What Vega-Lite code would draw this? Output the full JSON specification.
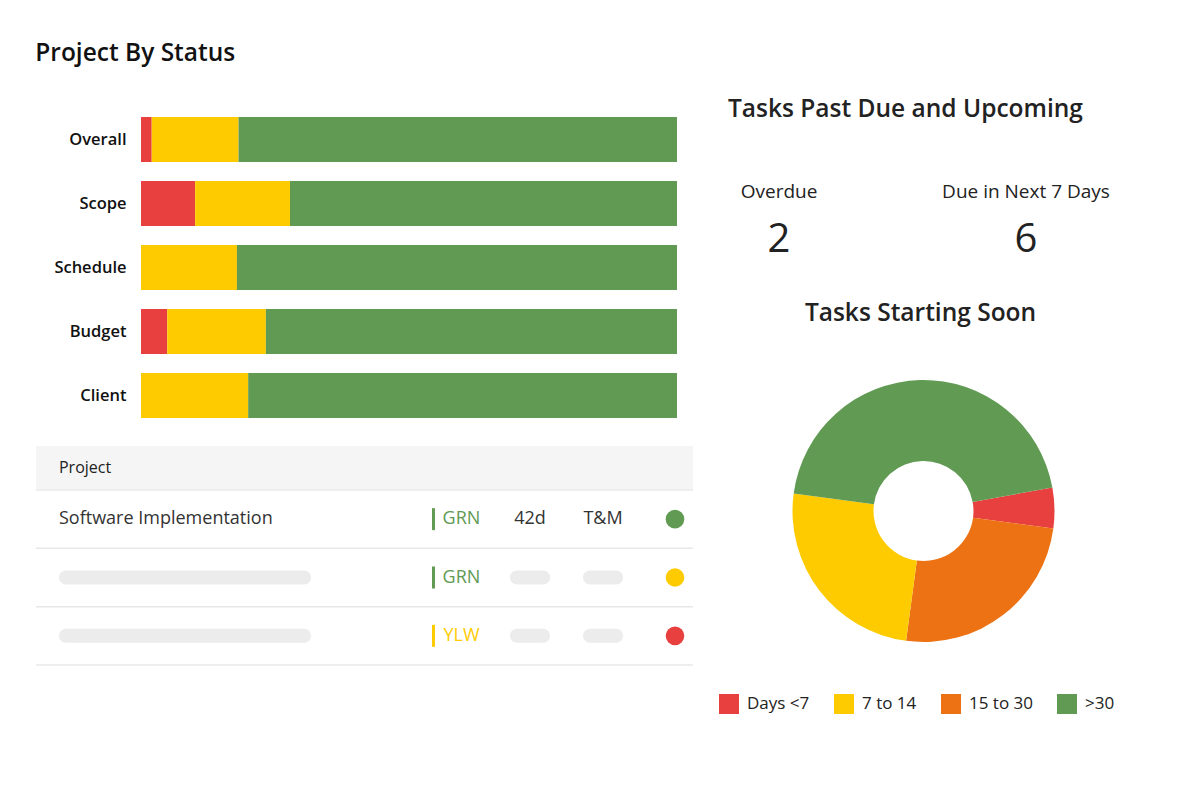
{
  "$schema": "https://vega.github.io/schema/vega-lite/v6.json",
  "background": "white",
  "padding": {"left": 35, "top": 40, "right": 0, "bottom": 0},
  "config": {"view": {"stroke": null}, "font": "Open Sans"},
  "title": {"text": "Project By Status", "anchor": "start", "fontSize": 24.5, "fontWeight": 600, "color": "#111", "offset": 13, "font": "Open Sans"},
  "resolve": {"scale": {"color": "independent"}, "legend": {"color": "independent"}},
  "spacing": 25,
  "hconcat": [
    {
      "spacing": 10,
      "resolve": {"scale": {"color": "independent"}, "legend": {"color": "independent"}},
      "vconcat": [
        {
          "width": 641,
          "height": 357,
          "data": {"values": [
            {"dimension": "Overall", "status": "Red", "seq": 1, "pct": 2.0},
            {"dimension": "Overall", "status": "Yellow", "seq": 2, "pct": 16.2},
            {"dimension": "Overall", "status": "Green", "seq": 3, "pct": 81.8},
            {"dimension": "Scope", "status": "Red", "seq": 1, "pct": 10.1},
            {"dimension": "Scope", "status": "Yellow", "seq": 2, "pct": 17.7},
            {"dimension": "Scope", "status": "Green", "seq": 3, "pct": 72.2},
            {"dimension": "Schedule", "status": "Yellow", "seq": 2, "pct": 17.9},
            {"dimension": "Schedule", "status": "Green", "seq": 3, "pct": 82.1},
            {"dimension": "Budget", "status": "Red", "seq": 1, "pct": 4.9},
            {"dimension": "Budget", "status": "Yellow", "seq": 2, "pct": 18.4},
            {"dimension": "Budget", "status": "Green", "seq": 3, "pct": 76.7},
            {"dimension": "Client", "status": "Yellow", "seq": 2, "pct": 20.0},
            {"dimension": "Client", "status": "Green", "seq": 3, "pct": 80.0}
          ]},
          "mark": {"type": "bar"},
          "encoding": {
            "y": {"field": "dimension", "type": "nominal", "sort": ["Overall", "Scope", "Schedule", "Budget", "Client"],
              "scale": {"paddingInner": 0.297, "paddingOuter": 0.4375, "align": 0.679},
              "axis": {"title": null, "ticks": false, "domain": false, "offset": -105, "labelFontSize": 16.5, "labelFontWeight": 600, "labelColor": "#111", "labelPadding": 15, "minExtent": 0, "maxExtent": 200, "labelFont": "Open Sans"}},
            "x": {"field": "pct", "type": "quantitative", "stack": "zero", "scale": {"domain": [-19.59, 100], "nice": false, "zero": false}, "axis": null},
            "color": {"field": "status", "type": "nominal", "scale": {"domain": ["Red", "Yellow", "Green"], "range": ["#e8403f", "#fecb00", "#619a52"]}, "legend": null},
            "order": {"field": "seq"}
          }
        },
        {
          "spacing": 0,
          "resolve": {"scale": {"color": "independent"}, "legend": {"color": "independent"}},
          "vconcat": [
            {
              "width": 657,
              "height": 43,
              "view": {"fill": "#f5f5f5", "stroke": null},
              "data": {"values": [{"column": "Project"}]},
              "mark": {"type": "text", "align": "left", "fontSize": 16, "fontWeight": 500, "color": "#222"},
              "encoding": {
                "x": {"field": "column", "type": "nominal", "scale": {"type": "point", "domain": ["Project"], "align": 0.035}, "axis": null},
                "text": {"field": "column"}
              }
            },
            {
              "width": 657,
              "height": 175,
              "data": {"values": [
                {"row": "1", "project": "Software Implementation", "status": "GRN", "duration": "42d", "contract": "T&M", "health": "Green"},
                {"row": "2", "project": null, "status": "GRN", "duration": null, "contract": null, "health": "Yellow"},
                {"row": "3", "project": null, "status": "YLW", "duration": null, "contract": null, "health": "Red"}
              ]},
              "layer": [
                {
                  "mark": {"type": "rule", "color": "#e8e8e8", "strokeWidth": 1.5},
                  "encoding": {"y": {"field": "row", "type": "nominal", "bandPosition": 0, "scale": {"domain": ["1", "2", "3"], "paddingInner": 0, "paddingOuter": 0}, "axis": null}}
                },
                {
                  "transform": [{"filter": "datum.row == '3'"}],
                  "mark": {"type": "rule", "color": "#e8e8e8", "strokeWidth": 1.5},
                  "encoding": {"y": {"field": "row", "type": "nominal", "bandPosition": 1, "axis": null}}
                },
                {
                  "transform": [{"filter": "datum.project != null"}],
                  "mark": {"type": "text", "align": "left", "fontSize": 18, "color": "#333"},
                  "encoding": {
                    "y": {"field": "row", "type": "nominal", "axis": null},
                    "x": {"datum": "project", "type": "nominal", "scale": {"type": "point", "domain": ["project"], "align": 0.035}, "axis": null},
                    "text": {"field": "project"}
                  }
                },
                {
                  "transform": [{"filter": "datum.project == null"}],
                  "mark": {"type": "point", "shape": "M0.5,-0.5H17.5A0.5,0.5 0 0 1 17.5,0.5H0.5A0.5,0.5 0 0 1 0.5,-0.5Z", "size": 784, "filled": true, "color": "#ececec", "opacity": 1, "strokeWidth": 0},
                  "encoding": {
                    "y": {"field": "row", "type": "nominal", "axis": null},
                    "x": {"datum": "project", "type": "nominal", "scale": {"type": "point", "domain": ["project"], "align": 0.035}, "axis": null}
                  }
                },
                {
                  "mark": {"type": "point", "shape": "M-2.68,-1H-2.41V1H-2.68Z", "size": 484, "filled": true, "opacity": 1, "strokeWidth": 0},
                  "encoding": {
                    "y": {"field": "row", "type": "nominal", "axis": null},
                    "x": {"datum": "status", "type": "nominal", "scale": {"type": "point", "domain": ["status"], "align": 0.6476}, "axis": null},
                    "color": {"field": "status", "type": "nominal", "scale": {"domain": ["GRN", "YLW"], "range": ["#619a52", "#fecb00"]}, "legend": null}
                  }
                },
                {
                  "mark": {"type": "text", "fontSize": 18},
                  "encoding": {
                    "y": {"field": "row", "type": "nominal", "axis": null},
                    "x": {"datum": "status", "type": "nominal", "scale": {"type": "point", "domain": ["status"], "align": 0.6476}, "axis": null},
                    "text": {"field": "status"},
                    "color": {"field": "status", "type": "nominal", "scale": {"domain": ["GRN", "YLW"], "range": ["#619a52", "#fecb00"]}, "legend": null}
                  }
                },
                {
                  "transform": [{"filter": "datum.duration != null"}],
                  "mark": {"type": "text", "fontSize": 18, "color": "#333"},
                  "encoding": {
                    "y": {"field": "row", "type": "nominal", "axis": null},
                    "x": {"datum": "duration", "type": "nominal", "scale": {"type": "point", "domain": ["duration"], "align": 0.7519}, "axis": null},
                    "text": {"field": "duration"}
                  }
                },
                {
                  "transform": [{"filter": "datum.duration == null"}],
                  "mark": {"type": "point", "shape": "M-0.93,-0.5H0.93A0.5,0.5 0 0 1 0.93,0.5H-0.93A0.5,0.5 0 0 1 -0.93,-0.5Z", "size": 784, "filled": true, "color": "#ececec", "opacity": 1, "strokeWidth": 0},
                  "encoding": {
                    "y": {"field": "row", "type": "nominal", "axis": null},
                    "x": {"datum": "duration", "type": "nominal", "scale": {"type": "point", "domain": ["duration"], "align": 0.7519}, "axis": null}
                  }
                },
                {
                  "transform": [{"filter": "datum.contract != null"}],
                  "mark": {"type": "text", "fontSize": 18, "color": "#333"},
                  "encoding": {
                    "y": {"field": "row", "type": "nominal", "axis": null},
                    "x": {"datum": "contract", "type": "nominal", "scale": {"type": "point", "domain": ["contract"], "align": 0.863}, "axis": null},
                    "text": {"field": "contract"}
                  }
                },
                {
                  "transform": [{"filter": "datum.contract == null"}],
                  "mark": {"type": "point", "shape": "M-0.93,-0.5H0.93A0.5,0.5 0 0 1 0.93,0.5H-0.93A0.5,0.5 0 0 1 -0.93,-0.5Z", "size": 784, "filled": true, "color": "#ececec", "opacity": 1, "strokeWidth": 0},
                  "encoding": {
                    "y": {"field": "row", "type": "nominal", "axis": null},
                    "x": {"datum": "contract", "type": "nominal", "scale": {"type": "point", "domain": ["contract"], "align": 0.863}, "axis": null}
                  }
                },
                {
                  "mark": {"type": "circle", "size": 346, "opacity": 1},
                  "encoding": {
                    "y": {"field": "row", "type": "nominal", "axis": null},
                    "x": {"datum": "health", "type": "nominal", "scale": {"type": "point", "domain": ["health"], "align": 0.9726}, "axis": null},
                    "color": {"field": "health", "type": "nominal", "scale": {"domain": ["Green", "Yellow", "Red"], "range": ["#619a52", "#fecb00", "#e8403f"]}, "legend": null}
                  }
                }
              ],
              "resolve": {"scale": {"x": "independent", "color": "independent"}}
            }
          ]
        }
      ]
    },
    {
      "spacing": 36,
      "resolve": {"scale": {"color": "independent"}, "legend": {"color": "independent"}},
      "vconcat": [
        {
          "width": 409,
          "height": 185,
          "title": {"text": "Tasks Past Due and Upcoming", "anchor": "start", "dx": 9, "fontSize": 24.5, "fontWeight": 600, "color": "#222", "offset": -43},
          "data": {"values": [
            {"metric": "Overdue", "count": 2},
            {"metric": "Due in Next 7 Days", "count": 6}
          ]},
          "encoding": {
            "x": {"field": "metric", "type": "nominal", "sort": null, "scale": {"type": "point", "padding": 0.328, "align": 0.3705}, "axis": null}
          },
          "layer": [
            {
              "mark": {"type": "text", "fontSize": 19, "fontWeight": 500, "color": "#222"},
              "encoding": {
                "y": {"datum": "label", "type": "nominal", "scale": {"type": "point", "domain": ["label"], "align": 0.6108}, "axis": null},
                "text": {"field": "metric"}
              }
            },
            {
              "mark": {"type": "text", "fontSize": 40, "fontWeight": 400, "color": "#222"},
              "encoding": {
                "y": {"datum": "value", "type": "nominal", "scale": {"type": "point", "domain": ["value"], "align": 0.8703}, "axis": null},
                "text": {"field": "count"}
              }
            }
          ],
          "resolve": {"scale": {"y": "independent"}}
        },
        {
          "width": 409,
          "height": 262,
          "title": {"text": "Tasks Starting Soon", "anchor": "middle", "dx": -3, "fontSize": 24.5, "fontWeight": 600, "color": "#222", "offset": 54},
          "data": {"values": [
            {"bucket": "Days <7", "tasks": 1, "seq": 1},
            {"bucket": "15 to 30", "tasks": 5, "seq": 2},
            {"bucket": "7 to 14", "tasks": 5, "seq": 3},
            {"bucket": ">30", "tasks": 9, "seq": 4}
          ]},
          "mark": {"type": "arc", "innerRadius": 50},
          "encoding": {
            "theta": {"field": "tasks", "type": "quantitative", "stack": true, "scale": {"range": [1.39, 7.673]}},
            "order": {"field": "seq"},
            "color": {"field": "bucket", "type": "nominal",
              "scale": {"domain": ["Days <7", "7 to 14", "15 to 30", ">30"], "range": ["#e8403f", "#fecb00", "#ec7213", "#619a52"]},
              "legend": {"orient": "bottom", "direction": "horizontal", "title": null, "symbolType": "square", "symbolSize": 400, "symbolStrokeWidth": 0, "symbolOpacity": 1, "labelFontSize": 17, "labelFont": "Open Sans", "labelColor": "#222", "labelOffset": 8, "columnPadding": 24, "offset": 52, "padding": 0}}
          }
        }
      ]
    }
  ]
}
